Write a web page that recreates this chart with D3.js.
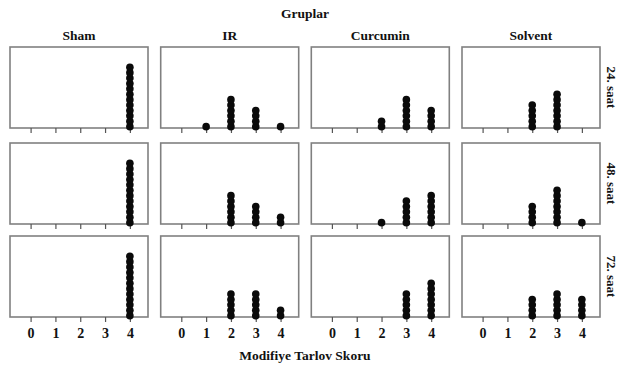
<!DOCTYPE html>
<html><head><meta charset="utf-8">
<script src="https://cdn.jsdelivr.net/npm/d3@7"></script>
<style>body{margin:0;background:#fff}svg text{font-family:"Liberation Serif","Times New Roman",serif;font-weight:bold;fill:#111}</style>
</head><body><svg id="c" width="621" height="371"></svg>
<script>
const groups = ["Sham", "IR", "Curcumin", "Solvent"];
const times = ["24. saat", "48. saat", "72. saat"];
const scores = [0, 1, 2, 3, 4];
// counts of animals per score (0..4) for each time x group
const sham24 = [0, 0, 0, 0, 12], ir24 = [0, 1, 6, 4, 1], cur24 = [0, 0, 2, 6, 4], sol24 = [0, 0, 5, 7, 0];
const sham48 = [0, 0, 0, 0, 12], ir48 = [0, 0, 6, 4, 2], cur48 = [0, 0, 1, 5, 6], sol48 = [0, 0, 4, 7, 1];
const sham72 = [0, 0, 0, 0, 12], ir72 = [0, 0, 5, 5, 2], cur72 = [0, 0, 0, 5, 7], sol72 = [0, 0, 4, 5, 4];
const counts = [[sham24, ir24, cur24, sol24], [sham48, ir48, cur48, sol48], [sham72, ir72, cur72, sol72]];
const title = "Gruplar", xTitle = "Modifiye Tarlov Skoru";

const svg = d3.select("#c");
const pw = 138, ph = 81;
const lefts = [10, 160.7, 311.3, 462];
const tops = [47, 143, 236];
const x = d3.scaleLinear().domain([-0.83, 4.73]).range([0, pw]);
const y = d3.scaleLinear().domain([0, 15]).range([ph, 0]);

svg.append("text").attr("x", 305).attr("y", 18).attr("text-anchor", "middle").attr("font-size", 13.5).text(title);
groups.forEach((g, j) => {
  svg.append("text").attr("x", lefts[j] + pw / 2).attr("y", 40).attr("text-anchor", "middle").attr("font-size", 13.5).text(g);
});
times.forEach((t, i) => {
  svg.append("text").attr("transform", `translate(607,${tops[i] + ph / 2}) rotate(90)`)
    .attr("text-anchor", "middle").attr("font-size", 13).text(t);
});
svg.append("text").attr("x", 305).attr("y", 360).attr("text-anchor", "middle").attr("font-size", 13.5).text(xTitle);

counts.forEach((row, i) => {
  row.forEach((vals, j) => {
    const g = svg.append("g").attr("transform", `translate(${lefts[j]},${tops[i]})`);
    g.append("rect").attr("x", 0).attr("y", 0).attr("width", pw).attr("height", ph)
      .attr("fill", "none").attr("stroke", "#808080").attr("stroke-width", 1.6);
    const ax = g.append("g").attr("transform", `translate(0,${ph})`)
      .call(d3.axisBottom(x).tickValues(scores).tickSize(5).tickPadding(6).tickFormat(i === 2 ? d3.format("d") : ""));
    ax.select(".domain").remove();
    ax.selectAll(".tick line").attr("stroke", "#555").attr("stroke-width", 1.2);
    ax.selectAll(".tick text").attr("font-size", 14).attr("font-family", "Liberation Serif, serif").attr("font-weight", "bold").attr("fill", "#111");
    const pts = [];
    vals.forEach((c, s) => { for (let k = 0; k < c; k++) pts.push({ s, k }); });
    g.selectAll("circle").data(pts).join("circle")
      .attr("cx", d => x(d.s)).attr("cy", d => y(d.k + 0.25)).attr("r", 3.8).attr("fill", "#0a0a0a");
  });
});
</script></body></html>
